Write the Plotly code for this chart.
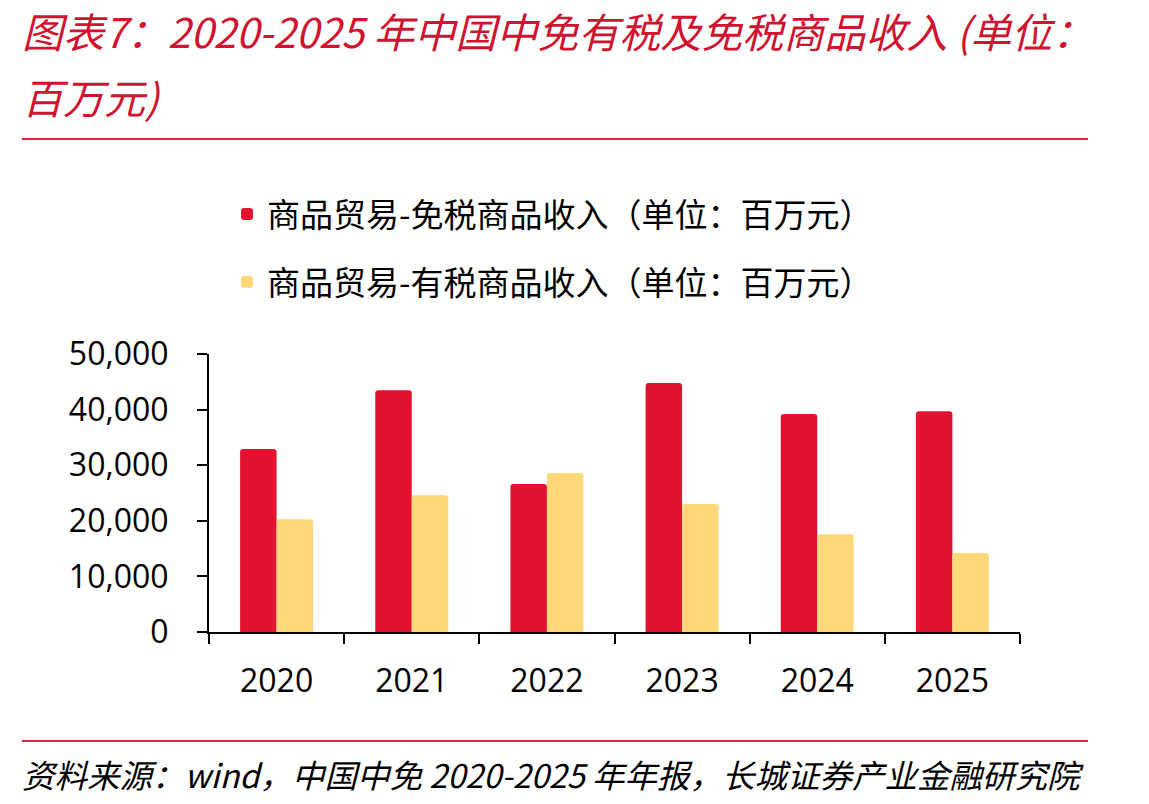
import plotly.graph_objects as go

years = ["2020", "2021", "2022", "2023", "2024", "2025"]
duty_free = [32900, 43500, 26600, 44800, 39200, 39700]
duty_paid = [20300, 24600, 28600, 23000, 17600, 14200]
name_free = "商品贸易-免税商品收入（单位：百万元）"
name_paid = "商品贸易-有税商品收入（单位：百万元）"
title_l1 = "图表7：2020-2025 年中国中免有税及免税商品收入 (单位："
title_l2 = "百万元)"
source = "资料来源：wind，中国中免 2020-2025 年年报，长城证券产业金融研究院"

W, H = 1149, 804
L, R, T, B = 209, 1020, 354, 632

def px(x):
    return (x - L) / (R - L)

def py(y):
    return (B - y) / (B - T)

CJK = "Noto Sans CJK SC"
NUM = "Open Sans, Noto Sans CJK SC"

fig = go.Figure()
fig.add_trace(go.Bar(x=years, y=duty_free, name=name_free, marker_color="#E31230",
                     legendgroup="a", marker_line_width=0))
fig.add_trace(go.Bar(x=years, y=duty_paid, name=name_paid, marker_color="#FFD87A",
                     legendgroup="b", marker_line_width=0))

fig.update_layout(
    width=W, height=H,
    margin=dict(l=L, r=W - R, t=T, b=H - B),
    paper_bgcolor="white", plot_bgcolor="white",
    barmode="group", bargap=0.46, bargroupgap=0, barcornerradius=3,
    font=dict(family=NUM, color="black", size=32),
    legend=dict(x=px(227), y=py(186), xanchor="left", yanchor="top",
                font=dict(family=CJK, size=33, color="black"),
                tracegroupgap=22, itemclick=False, bgcolor="rgba(0,0,0,0)"),
    xaxis=dict(showline=True, linecolor="black", linewidth=2, ticks="outside",
               tickson="boundaries", ticklen=10, tickwidth=2, tickcolor="black",
               showgrid=False, tickfont=dict(family=NUM, size=32),
               ticklabelstandoff=20),
    yaxis=dict(range=[0, 50000], tickvals=[0, 10000, 20000, 30000, 40000, 50000],
               tickformat=",", showline=True, linecolor="black", linewidth=2,
               ticks="outside", ticklen=10, tickwidth=2, tickcolor="black",
               showgrid=False, zeroline=False, tickfont=dict(family=NUM, size=32),
               ticklabelstandoff=22),
    showlegend=True,
)

red_title = "#D0132F"
fig.add_annotation(text="<i>" + title_l1 + "</i>", xref="paper", yref="paper",
                   x=px(20), y=py(30), xanchor="left", yanchor="middle", showarrow=False,
                   font=dict(family=CJK, size=41, color=red_title))
fig.add_annotation(text="<i>" + title_l2 + "</i>", xref="paper", yref="paper",
                   x=px(20), y=py(96), xanchor="left", yanchor="middle", showarrow=False,
                   font=dict(family=CJK, size=41, color=red_title))
fig.add_annotation(text="<i>" + source + "</i>", xref="paper", yref="paper",
                   x=px(20), y=py(773), xanchor="left", yanchor="middle", showarrow=False,
                   font=dict(family=CJK, size=32.5, color="black"))

for yy in (139, 741):
    fig.add_shape(type="line", xref="paper", yref="paper", x0=px(22), x1=px(1088),
                  y0=py(yy), y1=py(yy), line=dict(color="#E0213A", width=2))

fig.write_html("out.html")
